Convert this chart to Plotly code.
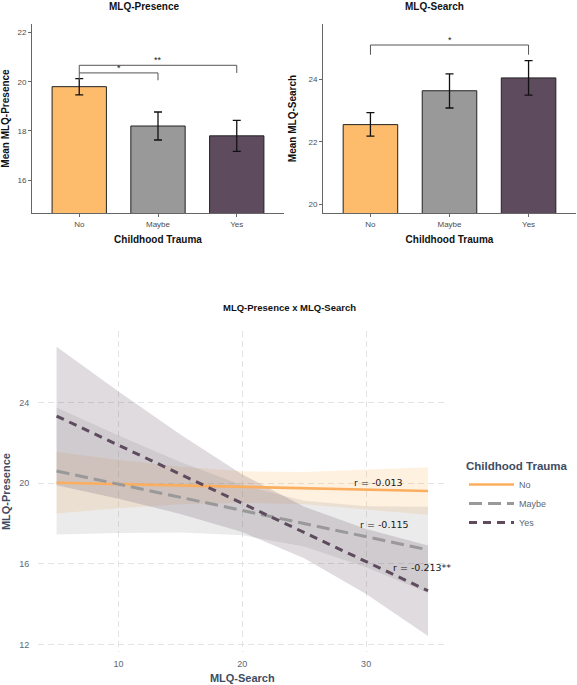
import plotly.graph_objects as go

# ---- bar panels ----
groups = ["No", "Maybe", "Yes"]
bar_colors = ["#FDBB6C", "#999999", "#5E4B5E"]

presence_mean = [19.80, 18.20, 17.80]
presence_err_up = [0.33, 0.57, 0.63]
presence_err_down = [0.33, 0.57, 0.63]

search_mean = [22.55, 23.63, 24.04]
search_err_up = [0.38, 0.54, 0.55]
search_err_down = [0.37, 0.55, 0.55]

# significance brackets: (from, to, level, tip, label)
presence_sig = [(0, 2, 20.67, 20.36, "**"), (0, 1, 20.36, 20.06, "*")]
search_sig = [(0, 2, 25.09, 24.78, "*")]

# ---- regression panel ----
mlq_search = [5, 10, 15, 20, 25, 30, 35]
fit_no = [20.03, 19.96, 19.89, 19.82, 19.76, 19.69, 19.62]
lo_no = [18.50, 18.76, 18.96, 19.04, 18.96, 18.71, 18.44]
hi_no = [21.56, 21.16, 20.82, 20.60, 20.56, 20.67, 20.80]
fit_maybe = [20.61, 19.96, 19.31, 18.66, 18.00, 17.35, 16.70]
lo_maybe = [17.46, 17.54, 17.56, 17.42, 16.87, 15.84, 14.56]
hi_maybe = [23.76, 22.38, 21.06, 19.90, 19.13, 18.86, 18.84]
fit_yes = [23.34, 21.90, 20.45, 19.01, 17.56, 16.12, 14.67]
lo_yes = [19.90, 19.24, 18.48, 17.58, 16.28, 14.51, 12.42]
hi_yes = [26.78, 24.56, 22.42, 20.44, 18.84, 17.73, 16.92]

r_labels = ["r = -0.013", "r = -0.115", "r = -0.213**"]
r_x = [31.0, 31.5, 34.5]
r_y = [20.03, 17.96, 15.81]

line_colors = ["#FBAE5F", "#999999", "#5E4B5E"]
ribbon_colors = ["rgba(253,184,99,0.2)", "rgba(153,153,153,0.2)", "rgba(94,75,94,0.2)"]
dashes = ["solid", "13px,6px", "8px,6px"]

W, H = 577, 685
slate = "#3E4C63"
slate_tick = "#5B6778"

fig = go.Figure()


def bar_panel(means, up, down, sig, xa, ya):
    fig.add_trace(go.Bar(
        x=groups, y=means, width=0.69,
        marker=dict(color=bar_colors, line=dict(color="#222222", width=1)),
        error_y=dict(type="data", array=up, arrayminus=down,
                     color="#111111", thickness=1.3, width=4),
        xaxis=xa, yaxis=ya, showlegend=False, hoverinfo="skip"))
    for a, b, lvl, tip, lab in sig:
        fig.add_trace(go.Scatter(
            x=[groups[a], groups[a], groups[b], groups[b]],
            y=[tip, lvl, lvl, tip], mode="lines",
            line=dict(color="#555555", width=1),
            xaxis=xa, yaxis=ya, showlegend=False, hoverinfo="skip"))
        fig.add_annotation(x=(a + b) / 2, y=lvl, xref=xa, yref=ya,
                           text=lab, showarrow=False, xanchor="center", yanchor="bottom",
                           yshift=-2,
                           font=dict(size=9, color="#222222", family="Liberation Sans"))


bar_panel(presence_mean, presence_err_up, presence_err_down, presence_sig, "x", "y")
bar_panel(search_mean, search_err_up, search_err_down, search_sig, "x2", "y2")

# ribbons then fitted lines
fits = [(fit_no, lo_no, hi_no), (fit_maybe, lo_maybe, hi_maybe), (fit_yes, lo_yes, hi_yes)]
for i, (fit, lo, hi) in enumerate(fits):
    fig.add_trace(go.Scatter(
        x=mlq_search + mlq_search[::-1], y=hi + lo[::-1],
        fill="toself", fillcolor=ribbon_colors[i], line=dict(width=0),
        mode="lines", xaxis="x3", yaxis="y3", showlegend=False, hoverinfo="skip"))
for i, (fit, lo, hi) in enumerate(fits):
    fig.add_trace(go.Scatter(
        x=mlq_search, y=fit, mode="lines", name=groups[i],
        line=dict(color=line_colors[i], width=3 if i else 2.6, dash=dashes[i]),
        xaxis="x3", yaxis="y3"))

for t, x, y in zip(r_labels, r_x, r_y):
    fig.add_annotation(x=x, y=y, xref="x3", yref="y3", text=t, showarrow=False,
                       xanchor="center", yanchor="middle",
                       font=dict(size=9.5, color="#1a1a1a", family="DejaVu Sans"))

# titles
title_font = dict(size=10, color="#111111")
fig.add_annotation(x=144 / W, y=1 - 6 / H, xref="paper", yref="paper", text="<b>MLQ-Presence</b>",
                   showarrow=False, xanchor="center", yanchor="middle", font=title_font)
fig.add_annotation(x=434 / W, y=1 - 6 / H, xref="paper", yref="paper", text="<b>MLQ-Search</b>",
                   showarrow=False, xanchor="center", yanchor="middle", font=title_font)
fig.add_annotation(x=289 / W, y=1 - 307 / H, xref="paper", yref="paper",
                   text="<b>MLQ-Presence x MLQ-Search</b>", showarrow=False,
                   xanchor="center", yanchor="middle", font=dict(size=9.5, color="#111111"))

top_dom = [1 - 213 / H, 1 - 24 / H]
cat_axis = dict(showline=True, linecolor="#666666", linewidth=1, ticks="outside", ticklen=3,
                tickcolor="#666666", showgrid=False, zeroline=False,
                tickfont=dict(size=8, color="#4D4D4D"), range=[-0.6, 2.6],
                title=dict(text="<b>Childhood Trauma</b>", font=dict(size=10, color="#111111"),
                           standoff=8))
val_axis = dict(showline=True, linecolor="#666666", linewidth=1, ticks="outside", ticklen=3,
                tickcolor="#666666", showgrid=False, zeroline=False,
                tickfont=dict(size=8, color="#4D4D4D"), domain=top_dom)

fig.update_layout(
    width=W, height=H, margin=dict(l=0, r=0, t=0, b=0),
    paper_bgcolor="white", plot_bgcolor="white",
    font=dict(family="Liberation Sans"),
    xaxis=dict(cat_axis, domain=[32 / W, 284 / W], anchor="y"),
    yaxis=dict(val_axis, range=[14.66, 22.35], tickvals=[16, 18, 20, 22], anchor="x",
               title=dict(text="<b>Mean MLQ-Presence</b>", font=dict(size=10, color="#111111"),
                          standoff=9)),
    xaxis2=dict(cat_axis, domain=[323 / W, 576 / W], anchor="y2"),
    yaxis2=dict(val_axis, range=[19.73, 25.76], tickvals=[20, 22, 24], anchor="x2",
                title=dict(text="<b>Mean MLQ-Search</b>", font=dict(size=10, color="#111111"),
                           standoff=9)),
    xaxis3=dict(domain=[38 / W, 446.6 / W], range=[3.5, 36.5], anchor="y3",
                tickvals=[10, 20, 30], showgrid=True, gridcolor="#E3E3E3", griddash="6px,4px",
                zeroline=False, showline=False, ticks="outside", ticklen=3,
                tickcolor="rgba(0,0,0,0)", tickfont=dict(size=9, color=slate_tick),
                title=dict(text="<b>MLQ-Search</b>", font=dict(size=11, color=slate), standoff=6)),
    yaxis3=dict(domain=[1 - 651.8 / H, 1 - 331.4 / H], range=[11.64, 27.54], anchor="x3",
                tickvals=[12, 16, 20, 24], showgrid=True, gridcolor="#E3E3E3", griddash="6px,4px",
                zeroline=False, showline=False, ticks="outside", ticklen=6,
                tickcolor="rgba(0,0,0,0)", tickfont=dict(size=9, color=slate_tick),
                title=dict(text="<b>MLQ-Presence</b>", font=dict(size=11, color=slate), standoff=8)),
    legend=dict(x=464 / W, y=1 - 455 / H, xanchor="left", yanchor="top", itemwidth=45,
                title=dict(text="<b>Childhood Trauma</b>", font=dict(size=11.5, color=slate)),
                font=dict(size=9, color=slate_tick), bgcolor="rgba(0,0,0,0)"),
)

# the page body has a default 8px margin; drop it so the figure sits at the corner
fig.write_html("out.html", config={"displayModeBar": False},
               post_script="document.body.style.margin='0px';")
